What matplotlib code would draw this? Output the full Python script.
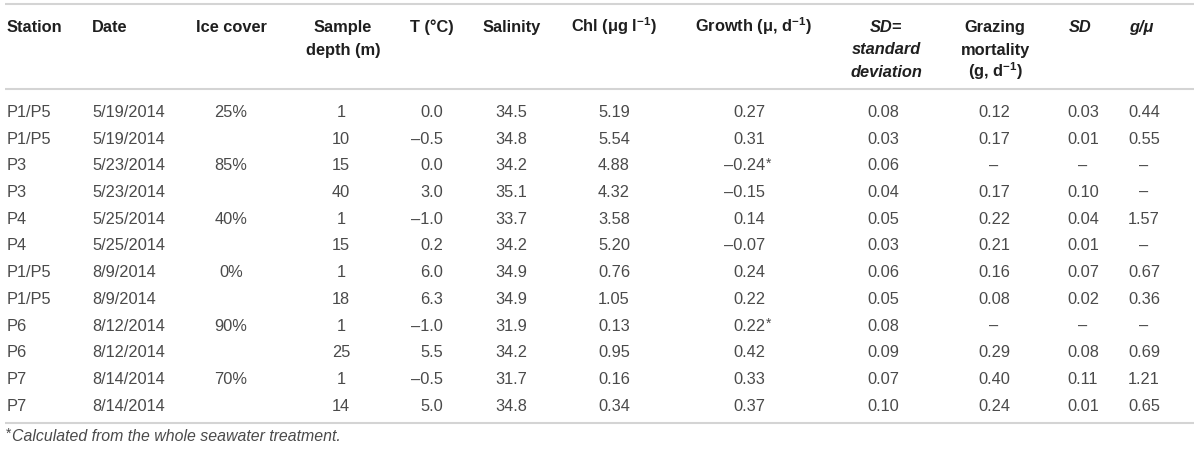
import matplotlib
matplotlib.use('Agg')
import matplotlib.pyplot as plt

# Table values
stations = ['P1/P5', 'P1/P5', 'P3', 'P3', 'P4', 'P4',
            'P1/P5', 'P1/P5', 'P6', 'P6', 'P7', 'P7']
dates = ['5/19/2014', '5/19/2014', '5/23/2014', '5/23/2014', '5/25/2014', '5/25/2014',
         '8/9/2014', '8/9/2014', '8/12/2014', '8/12/2014', '8/14/2014', '8/14/2014']
ice_cover = ['25%', '', '85%', '', '40%', '', '0%', '', '90%', '', '70%', '']
depth = [1, 10, 15, 40, 1, 15, 1, 18, 1, 25, 1, 14]
temp = [0.0, -0.5, 0.0, 3.0, -1.0, 0.2, 6.0, 6.3, -1.0, 5.5, -0.5, 5.0]
salinity = [34.5, 34.8, 34.2, 35.1, 33.7, 34.2, 34.9, 34.9, 31.9, 34.2, 31.7, 34.8]
chl = [5.19, 5.54, 4.88, 4.32, 3.58, 5.20, 0.76, 1.05, 0.13, 0.95, 0.16, 0.34]
growth = [0.27, 0.31, -0.24, -0.15, 0.14, -0.07, 0.24, 0.22, 0.22, 0.42, 0.33, 0.37]
growth_flag = [False, False, True, False, False, False, False, False, True, False, False, False]
growth_sd = [0.08, 0.03, 0.06, 0.04, 0.05, 0.03, 0.06, 0.05, 0.08, 0.09, 0.07, 0.10]
grazing = [0.12, 0.17, None, 0.17, 0.22, 0.21, 0.16, 0.08, None, 0.29, 0.40, 0.24]
grazing_sd = [0.03, 0.01, None, 0.10, 0.04, 0.01, 0.07, 0.02, None, 0.08, 0.11, 0.01]
g_mu = [0.44, 0.55, None, None, 1.57, None, 0.67, 0.36, None, 0.69, 1.21, 0.65]

footnote = 'Calculated from the whole seawater treatment.'

plt.rcParams['font.family'] = ['Liberation Sans', 'DejaVu Sans']
plt.rcParams['mathtext.fontset'] = 'custom'
plt.rcParams['mathtext.rm'] = 'Liberation Sans:bold'
plt.rcParams['mathtext.it'] = 'Liberation Sans:italic:bold'
plt.rcParams['mathtext.bf'] = 'Liberation Sans:bold'
plt.rcParams['mathtext.default'] = 'rm'

FS = 11.8
BODY = '#4a4a4a'
HEAD = '#1f1f1f'
RULE = '#d4d4d4'


def fmt(v, d):
    if v is None:
        return '\u2013'
    s = f'{abs(v):.{d}f}'
    return ('\u2013' + s) if v < 0 else s


fig = plt.figure(figsize=(12, 4.52), dpi=100)
ax = fig.add_axes([0, 0, 1, 1])
ax.set_xlim(0, 1200)
ax.set_ylim(452, 0)
ax.axis('off')

# horizontal rules
for y in (5, 90, 424):
    ax.plot([5, 1194], [y, y], color=RULE, lw=1.5, solid_capstyle='butt')

# header (x, ha, lines, style)
head_lines = [32, 54.5, 77]
headers = [
    (7, 'left', ['Station'], 'normal'),
    (92, 'left', ['Date'], 'normal'),
    (231, 'center', ['Ice cover'], 'normal'),
    (343, 'center', ['Sample', 'depth (m)'], 'normal'),
    (432, 'center', ['T (\u00b0C)'], 'normal'),
    (512, 'center', ['Salinity'], 'normal'),
    (614, 'center', ['Chl (\u03bcg l$^{-1}$)'], 'normal'),
    (753, 'center', ['Growth (\u03bc, d$^{-1}$)'], 'normal'),
    (886, 'center', ['SD=', 'standard', 'deviation'], 'italic'),
    (995, 'center', ['Grazing', 'mortality', '(g, d$^{-1}$)'], 'normal'),
    (1080, 'center', ['SD'], 'italic'),
    (1141, 'center', ['g/\u03bc'], 'italic'),
]
for x, ha, lines, style in headers:
    for i, line in enumerate(lines):
        ax.text(x, head_lines[i], line, ha=ha, va='baseline', fontsize=FS,
                fontweight='bold', style=style, color=HEAD)

# body rows
row0 = 117
step = 26.7
for i in range(len(stations)):
    yb = row0 + i * step
    cells = [
        (7, 'left', stations[i]),
        (92, 'left', dates[i]),
        (231, 'center', ice_cover[i]),
        (341, 'center', str(depth[i])),
        (443, 'right', fmt(temp[i], 1)),
        (511, 'center', fmt(salinity[i], 1)),
        (614, 'center', fmt(chl[i], 2)),
        (765, 'right', fmt(growth[i], 2)),
        (883, 'center', fmt(growth_sd[i], 2)),
        (994, 'center', fmt(grazing[i], 2)),
        (1083, 'center', fmt(grazing_sd[i], 2)),
        (1144, 'center', fmt(g_mu[i], 2)),
    ]
    for x, ha, s in cells:
        if s:
            ax.text(x, yb, s, ha=ha, va='baseline', fontsize=FS, color=BODY)
    if growth_flag[i]:
        ax.text(765.5, yb - 3, '*', ha='left', va='baseline', fontsize=FS * 0.85,
                color=BODY)

# footnote
ax.text(6, 438, '*', ha='left', va='baseline', fontsize=FS * 0.85, color=BODY)
ax.text(12, 441, footnote, ha='left', va='baseline', fontsize=FS * 0.97,
        style='italic', color=BODY)

fig.savefig('out.png', dpi=100)
